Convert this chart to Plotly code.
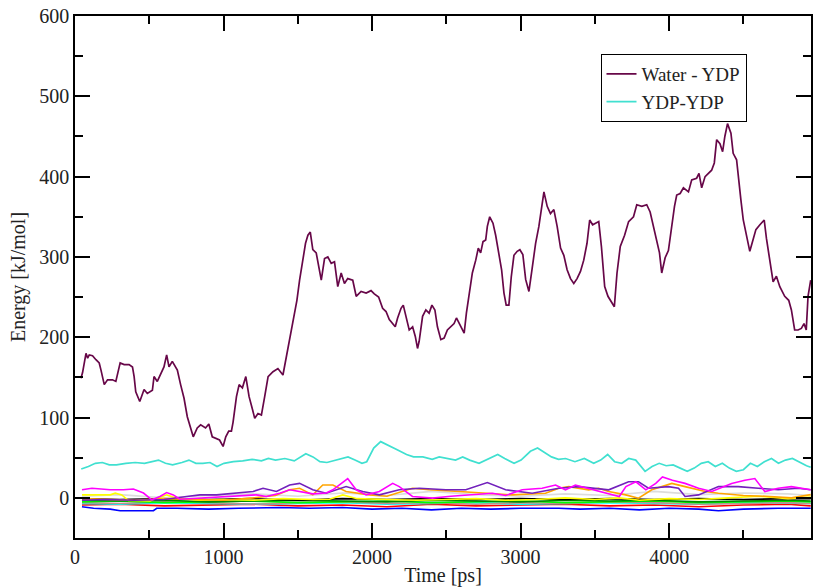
import plotly.graph_objects as go

# ---------------- data ----------------
water_t = [40, 51, 74, 85, 96, 118, 141, 163, 175, 197, 219, 252, 275, 286, 304, 331, 364, 387, 398, 409,
           436, 465, 487, 521, 532, 554, 581, 599, 617, 633, 655, 689, 711, 734, 756, 778, 796, 823, 846, 879,
           901, 924, 946, 973, 997, 1015, 1035, 1053, 1064, 1087, 1105, 1127, 1150, 1172, 1195, 1210, 1232, 1255,
           1277, 1300, 1333, 1366, 1400, 1423, 1445, 1467, 1494, 1512, 1534, 1552, 1568, 1584, 1601, 1624, 1658,
           1680, 1702, 1725, 1747, 1769, 1792, 1814, 1836, 1870, 1893, 1926, 1960, 1993, 2015, 2044, 2071, 2094,
           2116, 2139, 2156, 2172, 2195, 2210, 2228, 2250, 2273, 2291, 2306, 2317, 2340, 2362, 2384, 2403, 2423,
           2440, 2463, 2485, 2507, 2530, 2552, 2568, 2591, 2620, 2635, 2653, 2675, 2698, 2715, 2731, 2747, 2765,
           2776, 2792, 2814, 2832, 2854, 2872, 2888, 2903, 2921, 2937, 2955, 2977, 2995, 3015, 3034, 3056, 3078,
           3101, 3123, 3141, 3157, 3179, 3201, 3224, 3246, 3269, 3291, 3313, 3336, 3358, 3380, 3403, 3425, 3447,
           3465, 3485, 3507, 3526, 3544, 3566, 3588, 3615, 3631, 3649, 3671, 3700, 3727, 3760, 3782, 3816, 3849,
           3872, 3895, 3917, 3935, 3950, 3973, 3995, 4013, 4036, 4051, 4074, 4096, 4130, 4152, 4185, 4201, 4219,
           4242, 4264, 4286, 4304, 4320, 4342, 4360, 4375, 4393, 4416, 4431, 4454, 4465, 4483, 4499, 4521, 4543,
           4561, 4584, 4611, 4640, 4655, 4678, 4700, 4722, 4745, 4778, 4805, 4823, 4845, 4868, 4890, 4908, 4923,
           4935, 4953]
water_e = [149, 156, 180, 174, 178, 177, 172, 168, 159, 141, 147, 147, 145, 155, 168, 166, 166, 163, 151, 132,
           120, 135, 130, 134, 151, 145, 155, 163, 178, 163, 170, 159, 141, 124, 101, 87, 76, 87, 91, 87,
           92, 76, 74, 72, 64, 76, 83, 83, 94, 126, 141, 137, 151, 126, 110, 99, 105, 103,
           126, 151, 157, 161, 153, 176, 201, 222, 246, 271, 296, 317, 327, 331, 309, 305, 271,
           298, 300, 292, 294, 263, 280, 267, 273, 271, 251, 257, 255, 258, 254, 250, 236, 232,
           222, 217, 213, 224, 236, 240, 226, 209, 213, 201, 186, 195, 226, 234, 230, 240, 234,
           213, 197, 199, 209, 213, 217, 224, 215, 205, 230, 255, 280, 296, 311, 305, 319, 321,
           338, 350, 342, 327, 302, 284, 255, 240, 240, 275, 302, 307, 309, 303, 272, 257, 286,
           317, 338, 363, 381, 363, 354, 359, 338, 311, 302, 284, 273, 267, 273, 282, 296, 317,
           346, 340, 342, 344, 313, 263, 251, 242, 238, 280, 313, 327, 344, 350, 365, 363, 365,
           356, 338, 317, 305, 280, 299, 308, 334, 363, 377, 379, 386, 381, 396, 398, 404, 386,
           400, 404, 408, 417, 446, 441, 431, 450, 466, 454, 429, 421, 400, 371, 346, 325, 307,
           319, 334, 340, 346, 323, 296, 269, 276, 263, 251, 246, 234, 209, 209, 211, 217, 209,
           251, 271]

ydp_t = [42, 90, 137, 184, 231, 279, 342, 405, 468, 515, 562, 609, 657, 720, 767, 814, 861, 909, 956, 1003,
         1066, 1129, 1192, 1255, 1302, 1350, 1413, 1476, 1554, 1602, 1649, 1696, 1743, 1791, 1838, 1885, 1932,
         1964, 2011, 2058, 2106, 2169, 2232, 2279, 2342, 2405, 2452, 2515, 2562, 2610, 2657, 2720, 2783, 2846,
         2893, 2956, 3003, 3066, 3114, 3161, 3208, 3255, 3303, 3366, 3429, 3492, 3539, 3586, 3633, 3681, 3728,
         3775, 3838, 3885, 3933, 3980, 4027, 4074, 4122, 4169, 4216, 4263, 4311, 4358, 4405, 4452, 4500, 4547,
         4594, 4641, 4689, 4736, 4783, 4830, 4878, 4925, 4953]
ydp_e = [36, 39, 43, 44, 41, 41, 43, 44, 43, 45, 47, 43, 41, 44, 47, 43, 43, 44, 39, 43,
         45, 46, 48, 46, 49, 47, 49, 46, 55, 51, 45, 44, 46, 49, 51, 47, 43,
         45, 62, 70, 66, 60, 54, 51, 51, 48, 51, 49, 47, 51, 47, 43, 48, 54,
         49, 43, 47, 58, 62, 56, 51, 48, 49, 45, 49, 43, 47, 54, 45, 43, 49,
         47, 33, 39, 43, 40, 41, 37, 33, 37, 43, 45, 39, 43, 37, 33, 35, 43,
         39, 45, 49, 43, 47, 49, 44, 40, 38]

magenta_t = [47, 114, 237, 326, 393, 461, 517, 572, 617, 662, 707, 841, 1064, 1221, 1288, 1378, 1445, 1512,
             1601, 1691, 1736, 1836, 1893, 1960, 2049, 2139, 2183, 2272, 2407, 2530, 2650, 2809, 2900, 3011,
             3145, 3235, 3302, 3369, 3450, 3530, 3664, 3709, 3776, 3843, 3910, 3955, 4022, 4107, 4198, 4287,
             4421, 4510, 4577, 4644, 4734, 4823, 4953]
magenta_e = [10, 12, 10, 10, 11, 6, -2.5, 1.7, 6.6, 3.7, -1.7, -0.4, 1.7, 3.7, 1.7, 5.8, 10, 8,
             5, 6, 10, 24, 10, 3.7, 7.9, 18, 14, 1.7, -0.4, 2, 4, 5.8, 3, 10,
             12, 16, 10, 16, 12, 7.9, 1.7, 14, 20, 10, 18, 26, 22, 18, 12, 7.9,
             18, 22, 24, 7.9, 12, 14, 10]

indigo_t = [47, 200, 400, 600, 752, 841, 953, 1064, 1199, 1266, 1356, 1445, 1512, 1601, 1691, 1825, 1937,
            2049, 2183, 2317, 2497, 2631, 2776, 2899, 3078, 3257, 3391, 3593, 3727, 3794, 3861, 3995, 4063,
            4107, 4198, 4332, 4465, 4600, 4734, 4868, 4953]
indigo_e = [-3, -2, -3, -2, 1.7, 3.7, 3.7, 5.8, 7.9, 12, 7.9, 16, 18, 10, 5.8, 14, 7.9,
            3.7, 10, 12, 10, 10, 19, 10, 5.8, 12, 14, 10, 20, 20, 12, 14, 12,
            1.7, 3.7, 14, 14, 12, 10, 12, 10]

orange_t = [47, 200, 400, 600, 800, 1000, 1200, 1350, 1445, 1512, 1601, 1668, 1736, 1825, 1982, 2100, 2272,
            2384, 2586, 2809, 2944, 3168, 3257, 3324, 3458, 3526, 3593, 3700, 3794, 3883, 4018, 4107, 4243,
            4332, 4500, 4650, 4823, 4953]
orange_e = [-1, -2, -3, -1, -2, -3, 0, 3, 10, 12, 3.7, 16, 16, 7.9, 3.7, 2, 12,
            10, 7.9, 5.8, 3.7, 5.8, 12, 14, 10, 12, 8, 4, -0.4, 10, 18, 14, 7.9,
            5.8, 3, 2, 0, 4]

yellow_t = [47, 150, 237, 271, 315, 360, 505, 617, 685, 841, 1000, 1200, 1400, 1600, 1713, 1803, 1900, 2100,
            2300, 2500, 2700, 2900, 3100, 3300, 3500, 3664, 3800, 4000, 4200, 4400, 4600, 4800, 4953]
yellow_e = [3.7, 4, 3.7, 5.8, 3.7, -3.3, -4, 3.7, -0.4, -3, -2, -3, -1, -2, -1.7, 3.7, -1, -2,
            -3, -2, -1, -3, -2, 0, -2, 0, -3, -1, -2, 0, 2, -1, 1]

grid_t = [47, 300, 600, 900, 1200, 1500, 1800, 2100, 2400, 2700, 3000, 3300, 3600, 3900, 4200, 4500, 4800, 4953]
grey_e = [2, 4, 0, 3, 5, 2, 6, 3, 8, 4, 2, 5, 3, 8, 4, 6, 5, 3]
black_e = [-1, -2, -1, -2, -1, -3, -1, -2, -1, -2, -1, -2, -1, -2, -1, -2, -1, -1]
green4_e = [-3, -4, -3, -5, -4, -3, -4, -5, -3, -4, -5, -3, -4, -3, -5, -4, -3, -4]
green_e = [-5, -4, -6, -5, -4, -6, -5, -4, -6, -5, -4, -6, -5, -4, -6, -5, -4, -5]
rosy_e = [-6, -7, -5, -6, -8, -6, -5, -7, -6, -8, -6, -7, -5, -6, -8, -7, -6, -7]
cyan_e = [-7, -8, -6, -7, -8, -7, -6, -8, -7, -6, -8, -7, -6, -7, -8, -6, -7, -7]
red_e = [-9, -8, -10, -9, -8, -10, -9, -11, -8, -10, -9, -8, -10, -9, -11, -9, -8, -10]
blue_t = [47, 125, 237, 304, 528, 550, 685, 900, 1100, 1378, 1579, 1800, 2000, 2200, 2400, 2600, 2800,
          3000, 3257, 3400, 3600, 3800, 4000, 4200, 4332, 4500, 4734, 4953]
blue_e = [-11, -13, -14, -16, -16, -13, -13, -14, -13, -12, -13, -12, -14, -13, -15, -13, -14,
          -13, -13, -14, -13, -15, -13, -14, -16, -14, -13, -13]

x_ticks = [0, 1000, 2000, 3000, 4000]
y_ticks = [0, 100, 200, 300, 400, 500, 600]

# ---------------- figure ----------------
FONT = "Liberation Serif"
fig = go.Figure()

fig.add_trace(go.Scatter(x=water_t, y=water_e, mode="lines", name="Water - YDP",
                         line=dict(color="#670748", width=1.7)))
fig.add_trace(go.Scatter(x=ydp_t, y=ydp_e, mode="lines", name="YDP-YDP",
                         line=dict(color="#40e0d0", width=1.7)))

small = [
    (blue_t, blue_e, "#0000ff"),
    (grid_t, red_e, "#ff0000"),
    (grid_t, cyan_e, "#00ffff"),
    (grid_t, rosy_e, "#bc8f8f"),
    (grid_t, green_e, "#00ff00"),
    (grid_t, green4_e, "#008b00"),
    (grid_t, black_e, "#000000"),
    (grid_t, grey_e, "#dcdcdc"),
    (yellow_t, yellow_e, "#ffff00"),
    (orange_t, orange_e, "#ffa500"),
    (indigo_t, indigo_e, "#7221bc"),
    (magenta_t, magenta_e, "#ff00ff"),
]
for tx, ey, col in small:
    fig.add_trace(go.Scatter(x=tx, y=ey, mode="lines", showlegend=False,
                             line=dict(color=col, width=1.6)))

axis_common = dict(
    showline=True, linecolor="black", linewidth=1.5, mirror="ticks",
    ticks="inside", ticklen=15, tickwidth=1.5, tickcolor="black",
    showgrid=False, zeroline=False,
    tickfont=dict(family=FONT, size=20, color="#222222"),
)

fig.update_xaxes(range=[0, 4955], tickvals=x_ticks, ticktext=[str(v) for v in x_ticks],
                 minor=dict(dtick=500, tick0=0, ticks="inside", ticklen=8, tickwidth=1.5,
                            tickcolor="black", showgrid=False),
                 title=dict(text="Time [ps]", font=dict(family=FONT, size=20, color="#222222"), standoff=3),
                 **axis_common)
fig.update_yaxes(range=[-50, 600], tickvals=y_ticks, ticktext=[str(v) for v in y_ticks],
                 minor=dict(dtick=50, tick0=0, ticks="inside", ticklen=8, tickwidth=1.5,
                            tickcolor="black", showgrid=False),
                 title=dict(text="Energy [kJ/mol]", font=dict(family=FONT, size=20, color="#222222"), standoff=8),
                 **axis_common)

fig.update_layout(
    width=813, height=587,
    margin=dict(l=75, r=0, t=16, b=49),
    paper_bgcolor="white", plot_bgcolor="white",
    font=dict(family=FONT, size=20, color="#222222"),
    legend=dict(x=0.714, y=0.927, xanchor="left", yanchor="top",
                bgcolor="white", bordercolor="black", borderwidth=1,
                font=dict(family=FONT, size=19, color="#222222"),
                itemwidth=30, tracegroupgap=0),
    showlegend=True,
)

fig.write_html("out.html")
